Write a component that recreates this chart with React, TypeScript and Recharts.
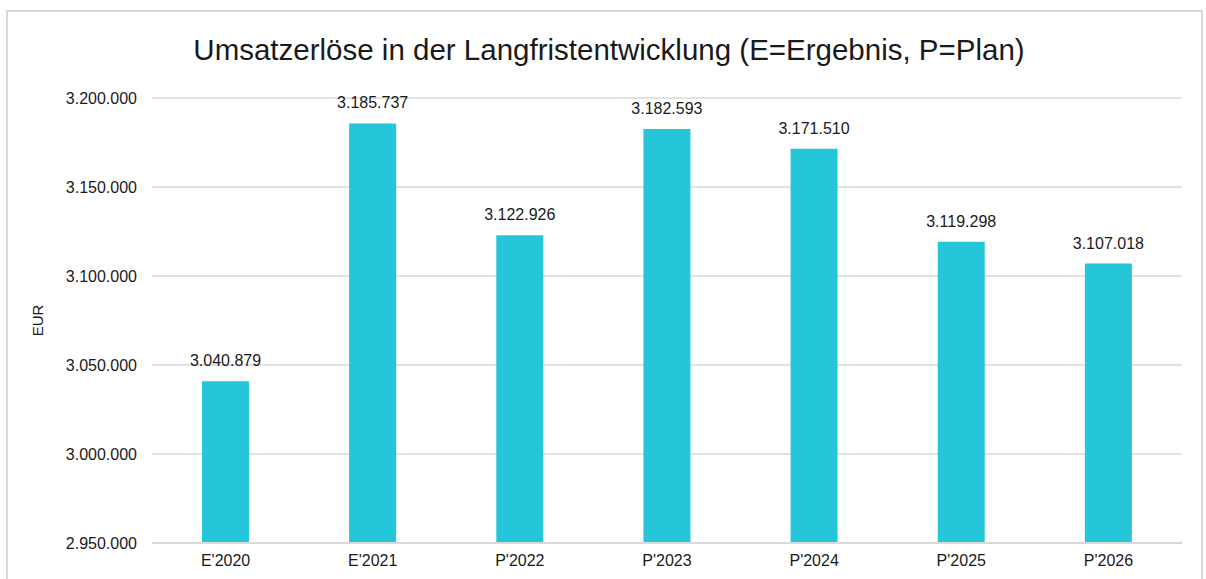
import React from "react";
import { BarChart, Bar, XAxis, YAxis, CartesianGrid, LabelList, Label } from "recharts";

const categories = ["E'2020", "E'2021", "P'2022", "P'2023", "P'2024", "P'2025", "P'2026"];
const umsatz = [3040879, 3185737, 3122926, 3182593, 3171510, 3119298, 3107018];
const yTicks = [2950000, 3000000, 3050000, 3100000, 3150000, 3200000];

const chartData = categories.map((label, i) => ({ label, value: umsatz[i] }));

// German thousands separator, e.g. 3.185.737
const formatDE = (v: number): string =>
  String(Math.round(v)).replace(/\B(?=(\d{3})+(?!\d))/g, ".");

const FONT = "'Liberation Sans', Arial, sans-serif";
const TEXT = "#1a1a1a";

const App: React.FC = () => {
  return (
    <div
      style={{
        position: "absolute",
        left: 0,
        top: 0,
        width: 1206,
        height: 579,
        overflow: "hidden",
        background: "#fff",
        fontFamily: FONT,
      }}
    >
      <div
        style={{
          position: "absolute",
          left: 6,
          top: 10,
          width: 1193,
          height: 600,
          border: "2px solid #d9d9d9",
        }}
      />
      <div
        style={{
          position: "absolute",
          left: 0,
          width: 1218,
          top: 34.5,
          textAlign: "center",
          fontSize: 29.5,
          lineHeight: "29.5px",
          color: TEXT,
        }}
      >
        Umsatzerlöse in der Langfristentwicklung (E=Ergebnis, P=Plan)
      </div>
      <div style={{ position: "absolute", left: 0, top: 0 }}>
        <BarChart
          width={1206}
          height={579}
          data={chartData}
          margin={{ top: 98, right: 24, bottom: 6, left: 22 }}
        >
          <CartesianGrid vertical={false} stroke="#d9d9d9" strokeWidth={1.5} />
          <XAxis
            dataKey="label"
            height={30}
            tickLine={false}
            tickSize={0}
            tickMargin={12}
            axisLine={{ stroke: "#d9d9d9", strokeWidth: 2 }}
            tick={{ fill: TEXT, fontSize: 16, fontFamily: FONT }}
          />
          <YAxis
            width={130}
            domain={[2950000, 3200000]}
            ticks={yTicks}
            allowDataOverflow
            tickFormatter={formatDE}
            tickLine={false}
            tickSize={0}
            tickMargin={15}
            axisLine={false}
            tick={{ fill: TEXT, fontSize: 16, fontFamily: FONT }}
          >
            <Label
              value="EUR"
              angle={-90}
              position="insideLeft"
              offset={16}
              style={{ fill: TEXT, fontSize: 15, fontFamily: FONT, textAnchor: "middle" }}
            />
          </YAxis>
          <Bar dataKey="value" fill="#26c6da" barSize={47} isAnimationActive={false}>
            <LabelList
              dataKey="value"
              position="top"
              offset={15}
              formatter={(v: number) => formatDE(v)}
              style={{ fill: TEXT, fontSize: 16, fontFamily: FONT }}
            />
          </Bar>
        </BarChart>
      </div>
    </div>
  );
};

export default App;
